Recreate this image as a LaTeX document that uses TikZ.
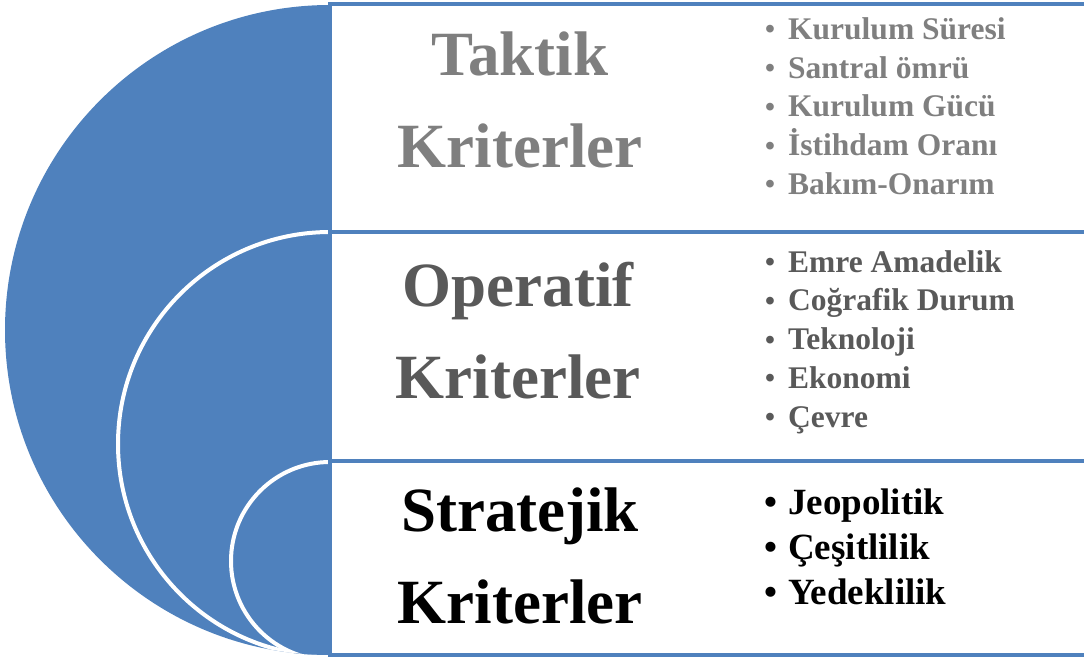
\documentclass[tikz,border=0pt]{standalone}
\usepackage{fontspec}
\setmainfont{Liberation Serif}
\usepackage{tikz}

\definecolor{targetblue}{HTML}{4F81BD}
\definecolor{lightgray}{HTML}{7F7F7F}
\definecolor{darkgray}{HTML}{595959}

% bullet in front of each criterion
\newcommand{\critdot}[2][0.9]{\makebox[#2][l]{\raisebox{0.4pt}{\scalebox{#1}{•}}}}

\begin{document}
\begin{tikzpicture}[x=1pt, y=-1pt,
    critbox/.style={draw=targetblue, line width=3.5pt, anchor=north west,
        inner sep=0pt, outer sep=0pt, minimum width=780pt},
    ring/.style={fill=targetblue, draw=white, line width=4pt},
    title/.style={font=\bfseries\fontsize{63}{92}\selectfont, align=center,
        inner sep=0pt},
    items/.style={font=\bfseries\fontsize{31.5}{38.7}\selectfont, align=left,
        anchor=west, inner sep=0pt},
]
\useasboundingbox (0,0) rectangle (1084,659);

% nested half discs
\begin{scope}
    \clip (0,0) rectangle (330,659);
    \fill[targetblue] (330,330) circle[radius=325];
    \clip (330,330) circle[radius=325];
    \filldraw[ring] (330,444) circle[radius=212];
    \filldraw[ring] (330,561) circle[radius=99];
\end{scope}

% boxes
\node[critbox, minimum height=228pt] (taktikBox) at (330,4) {};
\node[critbox, minimum height=229pt] (operatifBox) at (330,232) {};
\node[critbox, minimum height=194pt] (stratejikBox) at (330,461) {};

\node[title, text=lightgray] (taktik) at (520,100) {Taktik\\Kriterler};
\node[title, text=darkgray] (operatif) at (518,331) {Operatif\\Kriterler};
\node[title, text=black] (stratejik) at (520,556) {Stratejik\\Kriterler};

\node[items, text=lightgray] (taktikList) at (765,106)
    {\critdot{23pt}Kurulum Süresi\\\critdot{23pt}Santral ömrü\\\critdot{23pt}Kurulum Gücü\\
     \critdot{23pt}İstihdam Oranı\\\critdot{23pt}Bakım-Onarım};
\node[items, text=darkgray] (operatifList) at (765,342)
    {\critdot{23pt}Emre Amadelik\\\critdot{23pt}Coğrafik Durum\\\critdot{23pt}Teknoloji\\
     \critdot{23pt}Ekonomi\\\critdot{23pt}Çevre};
\node[items, text=black, font=\bfseries\fontsize{37}{45}\selectfont] (stratejikList) at (764,547)
    {\critdot[1]{24pt}Jeopolitik\\\critdot[1]{24pt}Çeşitlilik\\\critdot[1]{24pt}Yedeklilik};
\end{tikzpicture}
\end{document}
